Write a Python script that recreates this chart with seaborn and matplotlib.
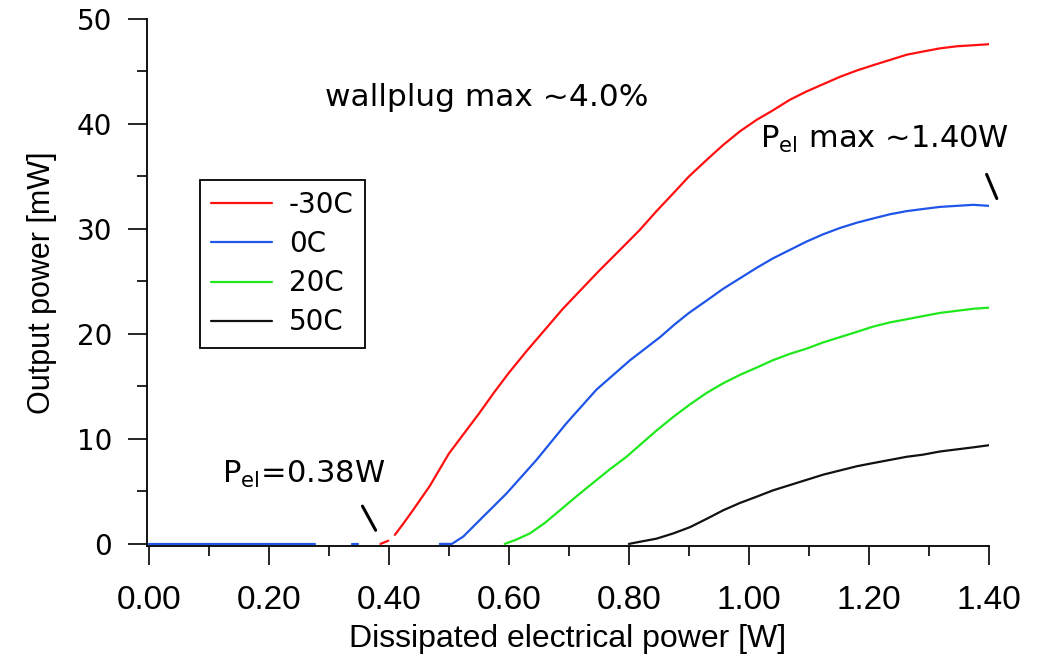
import numpy as np
import pandas as pd
import matplotlib
matplotlib.use("Agg")
import matplotlib.pyplot as plt
import matplotlib.font_manager as fm
import seaborn as sns
from matplotlib.lines import Line2D

# ---- data ----
nan = np.nan
x_m30 = [0.386, 0.399, nan, 0.41, 0.425, 0.44, 0.468, 0.50, 0.525, 0.55, 0.575, 0.60, 0.63, 0.66,
         0.69, 0.72, 0.75, 0.785, 0.818, 0.846, 0.874, 0.90, 0.93, 0.957, 0.985, 1.013, 1.04, 1.068,
         1.096, 1.124, 1.152, 1.18, 1.207, 1.235, 1.263, 1.29, 1.318, 1.346, 1.374, 1.40]
y_m30 = [0.0, 0.3, nan, 0.86, 2.0, 3.2, 5.5, 8.6, 10.5, 12.4, 14.4, 16.3, 18.4, 20.4,
         22.4, 24.2, 26.0, 28.0, 29.9, 31.7, 33.4, 35.0, 36.6, 38.0, 39.3, 40.4, 41.3, 42.3,
         43.1, 43.8, 44.5, 45.1, 45.6, 46.1, 46.6, 46.9, 47.2, 47.4, 47.5, 47.6]

x_0 = [0.0, 0.277, nan, 0.338, 0.349, nan, 0.485, 0.505, 0.524, 0.552, 0.596, 0.646, 0.696,
       0.746, 0.802, 0.852, 0.876, 0.90, 0.93, 0.957, 0.985, 1.013, 1.04, 1.068, 1.096, 1.124,
       1.152, 1.18, 1.207, 1.235, 1.263, 1.29, 1.318, 1.346, 1.374, 1.40]
y_0 = [0.0, 0.0, nan, 0.0, 0.0, nan, 0.0, 0.0, 0.7, 2.3, 4.8, 8.0, 11.5,
       14.7, 17.5, 19.7, 20.9, 22.0, 23.2, 24.3, 25.3, 26.3, 27.2, 28.0, 28.8, 29.5,
       30.1, 30.6, 31.0, 31.4, 31.7, 31.9, 32.1, 32.2, 32.3, 32.2]

x_20 = [0.593, 0.612, 0.635, 0.66, 0.685, 0.712, 0.74, 0.768, 0.796, 0.818, 0.846, 0.874, 0.902,
        0.93, 0.957, 0.985, 1.013, 1.04, 1.068, 1.096, 1.124, 1.152, 1.18, 1.207, 1.235, 1.263,
        1.29, 1.318, 1.346, 1.374, 1.40]
y_20 = [0.0, 0.4, 1.0, 2.0, 3.2, 4.5, 5.8, 7.1, 8.3, 9.4, 10.8, 12.1, 13.3,
        14.4, 15.3, 16.1, 16.8, 17.5, 18.1, 18.6, 19.2, 19.7, 20.2, 20.7, 21.1, 21.4,
        21.7, 22.0, 22.2, 22.4, 22.5]

x_50 = [0.80, 0.818, 0.846, 0.874, 0.902, 0.93, 0.957, 0.985, 1.013, 1.04, 1.068, 1.096, 1.124,
        1.152, 1.18, 1.207, 1.235, 1.263, 1.29, 1.318, 1.346, 1.374, 1.40]
y_50 = [0.0, 0.2, 0.5, 1.0, 1.6, 2.4, 3.2, 3.9, 4.5, 5.1, 5.6, 6.1, 6.6,
        7.0, 7.4, 7.7, 8.0, 8.3, 8.5, 8.8, 9.0, 9.2, 9.4]

labels = ["-30C", "0C", "20C", "50C"]
colors = ["#ff1010", "#1f55e8", "#1fe81c", "#111111"]
x_ticks = [0.0, 0.2, 0.4, 0.6, 0.8, 1.0, 1.2, 1.4]
y_ticks = [0, 10, 20, 30, 40, 50]

# ---- build long table with segment ids (gaps = NaN) ----
frames = []
for lab, xs, ys in zip(labels, [x_m30, x_0, x_20, x_50], [y_m30, y_0, y_20, y_50]):
    xs = np.asarray(xs, float)
    ys = np.asarray(ys, float)
    seg = np.cumsum(np.isnan(xs))
    d = pd.DataFrame({"x": xs, "y": ys, "seg": [f"{lab}_{s}" for s in seg], "T": lab})
    frames.append(d.dropna())
df = pd.concat(frames, ignore_index=True)

sns.set_style("ticks")
avail = {f.name for f in fm.fontManager.ttflist}
narrow = "Liberation Sans Narrow" if "Liberation Sans Narrow" in avail else "Liberation Sans"
plt.rcParams["font.family"] = ["DejaVu Sans"]
for k in ["text.color", "axes.labelcolor", "xtick.color", "ytick.color", "axes.edgecolor"]:
    plt.rcParams[k] = "black"

W, H = 1037, 656
fig = plt.figure(figsize=(W / 100, H / 100), dpi=100)
ax = fig.add_axes([147 / W, 1 - 546 / H, (989 - 147) / W, (546 - 19) / H])

sns.lineplot(data=df, x="x", y="y", hue="T", units="seg", estimator=None,
             palette=dict(zip(labels, colors)), hue_order=labels, linewidth=1.6,
             ax=ax, legend=False, sort=False)

ax.set_xlim(-0.003, 1.40)
ax.set_ylim(-0.2, 50)
sns.despine(ax=ax)
for s in ["left", "bottom"]:
    ax.spines[s].set_linewidth(1.3)
    ax.spines[s].set_color("black")

ax.set_xticks(x_ticks)
ax.set_xticklabels([f"{v:.2f}" for v in x_ticks], fontfamily=narrow, fontsize=24)
ax.set_xticks(np.arange(0.1, 1.4, 0.2), minor=True)
ax.set_yticks(y_ticks)
ax.set_yticklabels([str(v) for v in y_ticks], fontsize=20)
ax.set_yticks(np.arange(5, 50, 10), minor=True)
ax.tick_params(axis="both", which="major", direction="out", length=14, width=1.2, color="black")
ax.tick_params(axis="both", which="minor", direction="out", length=7, width=1.2, color="black")
ax.tick_params(axis="x", which="major", pad=14)
ax.tick_params(axis="y", which="major", pad=11)

ax.set_xlabel("Dissipated electrical power [W]", fontfamily=narrow, fontsize=23, labelpad=6)
ax.set_ylabel("Output power [mW]", fontfamily=narrow, fontsize=22, labelpad=14)

# legend
handles = [Line2D([], [], color=c, lw=1.6) for c in colors]
leg = ax.legend(handles, labels, loc="upper left", bbox_to_anchor=(0.063, 0.6945),
                borderaxespad=0, fontsize=20, frameon=True, fancybox=False, framealpha=1,
                edgecolor="black", handlelength=2.2, handletextpad=0.6, labelspacing=0.4,
                borderpad=0.4)
leg.get_frame().set_linewidth(1.3)

# annotations
ax.text(0.293, 42.5, "wallplug max ~4.0%", fontsize=22.5, va="center", ha="left")
ax.text(0.122, 5.8, r"P$_{\mathrm{el}}$=0.38W", fontsize=22, va="baseline", ha="left")
ax.text(1.018, 37.7, r"P$_{\mathrm{el}}$ max ~1.40W", fontsize=22, va="baseline", ha="left")
ax.annotate("", xy=(0.378, 1.3), xytext=(0.356, 3.6),
            arrowprops=dict(arrowstyle="-", lw=2.2, color="black", shrinkA=0, shrinkB=0),
            annotation_clip=False)
ax.annotate("", xy=(1.413, 32.9), xytext=(1.396, 35.2),
            arrowprops=dict(arrowstyle="-", lw=2.2, color="black", shrinkA=0, shrinkB=0),
            annotation_clip=False)

fig.savefig("out.png", dpi=100)
